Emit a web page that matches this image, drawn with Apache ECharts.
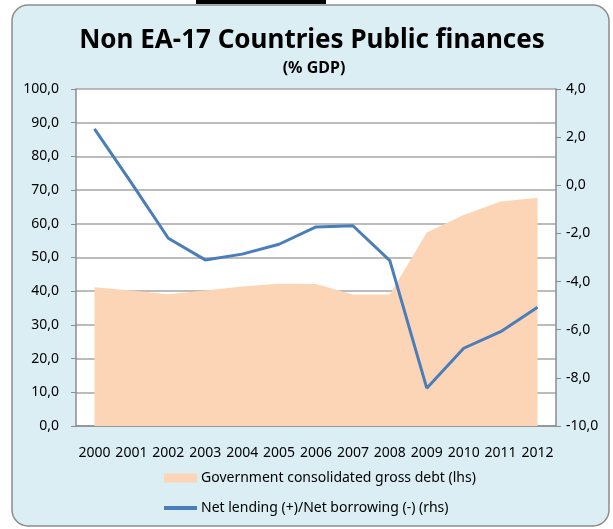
<!DOCTYPE html>
<html><head><meta charset="utf-8">
<script src="https://cdn.jsdelivr.net/npm/echarts@6/dist/echarts.min.js"></script>
<style>html,body{margin:0;padding:0;background:#fff}#c{width:613px;height:529px}</style>
</head><body><div id="c"></div>
<script>
var years = ['2000','2001','2002','2003','2004','2005','2006','2007','2008','2009','2010','2011','2012'];
var debt = [41.2, 40.2, 39.1, 40.2, 41.4, 42.2, 42.1, 39.0, 39.0, 57.4, 62.6, 66.6, 67.7];
var netLending = [2.34, 0.1, -2.2, -3.1, -2.86, -2.45, -1.73, -1.68, -3.13, -8.43, -6.77, -6.08, -5.07];
var debtName = 'Government consolidated gross debt (lhs)';
var lendName = 'Net lending (+)/Net borrowing (-) (rhs)';
var titleText = 'Non EA-17 Countries Public finances';
var subText = '(% GDP)';

var FONT = 'Noto Sans';
var chart = echarts.init(document.getElementById('c'), null, {renderer: 'canvas'});
function fmt(v){ return v.toFixed(1).replace('.', ','); }
chart.setOption({
  animation: false,
  backgroundColor: '#ffffff',
  graphic: [
    {type:'rect', shape:{x:12, y:5, width:597, height:521, r:16}, style:{fill:'#DBEEF4', stroke:'#8c8c8c', lineWidth:1.5}, z:-10},
    {type:'rect', shape:{x:196, y:0, width:130, height:4}, style:{fill:'#000'}},
    {type:'text', x:312, y:41, style:{text:titleText, font:'bold 26px "Noto Sans"', fill:'#000', textAlign:'center', textVerticalAlign:'middle'}},
    {type:'text', x:314, y:68, style:{text:subText, font:'bold 16px "Noto Sans"', fill:'#000', textAlign:'center', textVerticalAlign:'middle'}}
  ],
  grid: {left:76, right:57, top:89, bottom:103, show:true, backgroundColor:'#ffffff', borderWidth:0, containLabel:false},
  legend: [
    {data:[debtName], left:164, top:471, padding:0, orient:'vertical', icon:'rect', itemWidth:33, itemHeight:9, itemGap:4,
     textStyle:{fontFamily:FONT, fontSize:14, color:'#000', padding:[0,0,0,-1]}},
    {data:[lendName], left:164, top:501, padding:0, orient:'vertical', icon:'rect', itemWidth:33, itemHeight:4, itemGap:4,
     textStyle:{fontFamily:FONT, fontSize:14, color:'#000', padding:[0,0,0,-1]}}
  ],
  xAxis: {
    type:'category', data:years, boundaryGap:true,
    axisLine:{show:true, lineStyle:{color:'#8c8c8c', width:1.5}},
    axisTick:{show:false},
    axisLabel:{interval:0, fontFamily:FONT, fontSize:14, color:'#000', margin:20}
  },
  yAxis: [
    {type:'value', min:0, max:100, interval:10, position:'left',
     axisLine:{show:true, lineStyle:{color:'#8c8c8c', width:1.5}},
     axisTick:{show:true, length:5, lineStyle:{color:'#8c8c8c'}},
     splitLine:{show:true, lineStyle:{color:'#a6a6a6', width:1.5}},
     axisLabel:{formatter:fmt, fontFamily:FONT, fontSize:14, color:'#000', margin:17}},
    {type:'value', min:-10, max:4, interval:2, position:'right',
     axisLine:{show:true, lineStyle:{color:'#8c8c8c', width:1.5}},
     axisTick:{show:true, length:5, lineStyle:{color:'#8c8c8c'}},
     splitLine:{show:false},
     axisLabel:{formatter:fmt, fontFamily:FONT, fontSize:14, color:'#000', margin:10}}
  ],
  series: [
    {name:debtName, type:'line', yAxisIndex:0, data:debt, symbol:'none', showSymbol:false,
     lineStyle:{width:0, color:'#FBD5B5'}, itemStyle:{color:'#FBD5B5'}, areaStyle:{color:'#FBD5B5', opacity:1}, z:1},
    {name:lendName, type:'line', yAxisIndex:1, data:netLending, symbol:'none', showSymbol:false,
     lineStyle:{width:3, color:'#4A7EBB'}, itemStyle:{color:'#4A7EBB'}, z:3}
  ]
});
</script></body></html>
